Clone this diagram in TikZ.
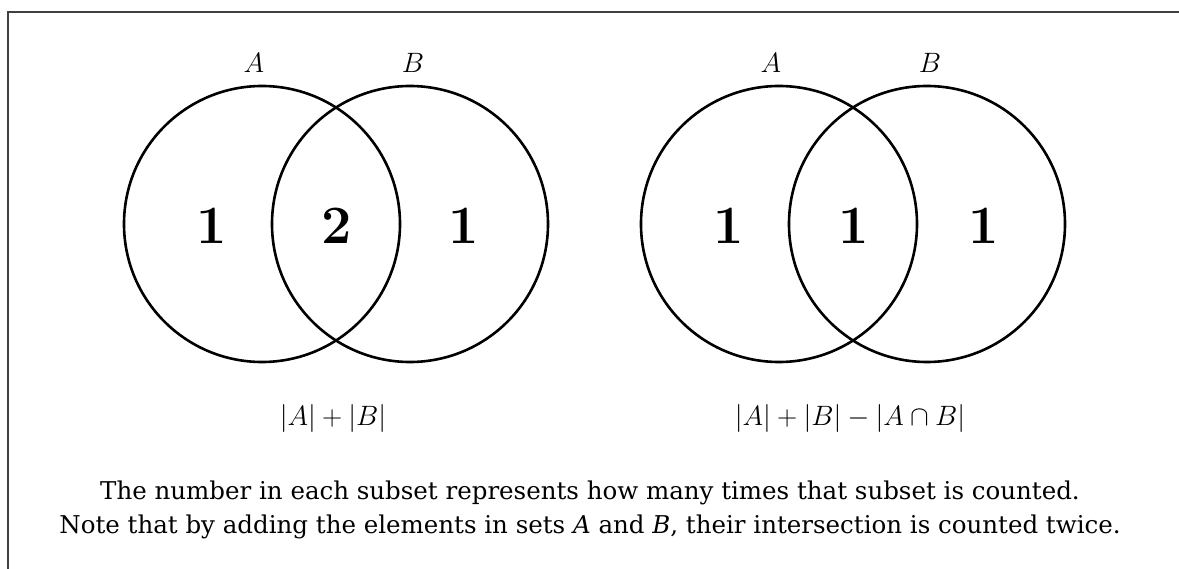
\RequirePackage{fix-cm}
\documentclass[tikz,border=0pt]{standalone}
\usepackage{fontspec}
\newfontfamily\capfont{DejaVu Serif}
\begin{document}
\begin{tikzpicture}[x=1pt,y=-1pt,
  frame/.style={draw=black!75,line width=1.5pt},
  venn/.style={draw,circle,minimum size=276pt,inner sep=0pt,line width=2.6pt},
  setlab/.style={inner sep=0pt,font=\fontsize{28}{32}\selectfont},
  count/.style={inner sep=0pt,font=\fontsize{54}{60}\selectfont\bfseries},
  formula/.style={inner sep=0pt,font=\fontsize{28}{32}\selectfont},
  caption/.style={inner sep=0pt,anchor=base,font=\capfont\fontsize{24.5}{33}\selectfont}]
\useasboundingbox (0,0) rectangle (1179,569);
\draw[frame] (8,569) -- (8,12) -- (1179,12);
% left diagram
\node[venn] (LA) at (262,224) {};
\node[venn] (LB) at (410,224) {};
\node[setlab] (LlA) at (254,63) {$A$};
\node[setlab] (LlB) at (413,63) {$B$};
\node[count] (Ln1) at (212,226) {1};
\node[count] (Ln2) at (337,226) {2};
\node[count] (Ln3) at (464,226) {1};
\node[formula] (Lf) at (333,419) {$|A|+|B|$};
% right diagram
\node[venn] (RA) at (779,224) {};
\node[venn] (RB) at (927,224) {};
\node[setlab] (RlA) at (771,63) {$A$};
\node[setlab] (RlB) at (930,63) {$B$};
\node[count] (Rn1) at (729,226) {1};
\node[count] (Rn2) at (854,226) {1};
\node[count] (Rn3) at (984,226) {1};
\node[formula] (Rf) at (850,419) {$|A|+|B|-|A\cap B|$};
% caption
\node[caption] (cap1) at (590,500) {The number in each subset represents how many times that subset is counted.};
\node[caption] (cap2) at (590,533) {Note that by adding the elements in sets \textit{A} and \textit{B}, their intersection is counted twice.};
\end{tikzpicture}
\end{document}
